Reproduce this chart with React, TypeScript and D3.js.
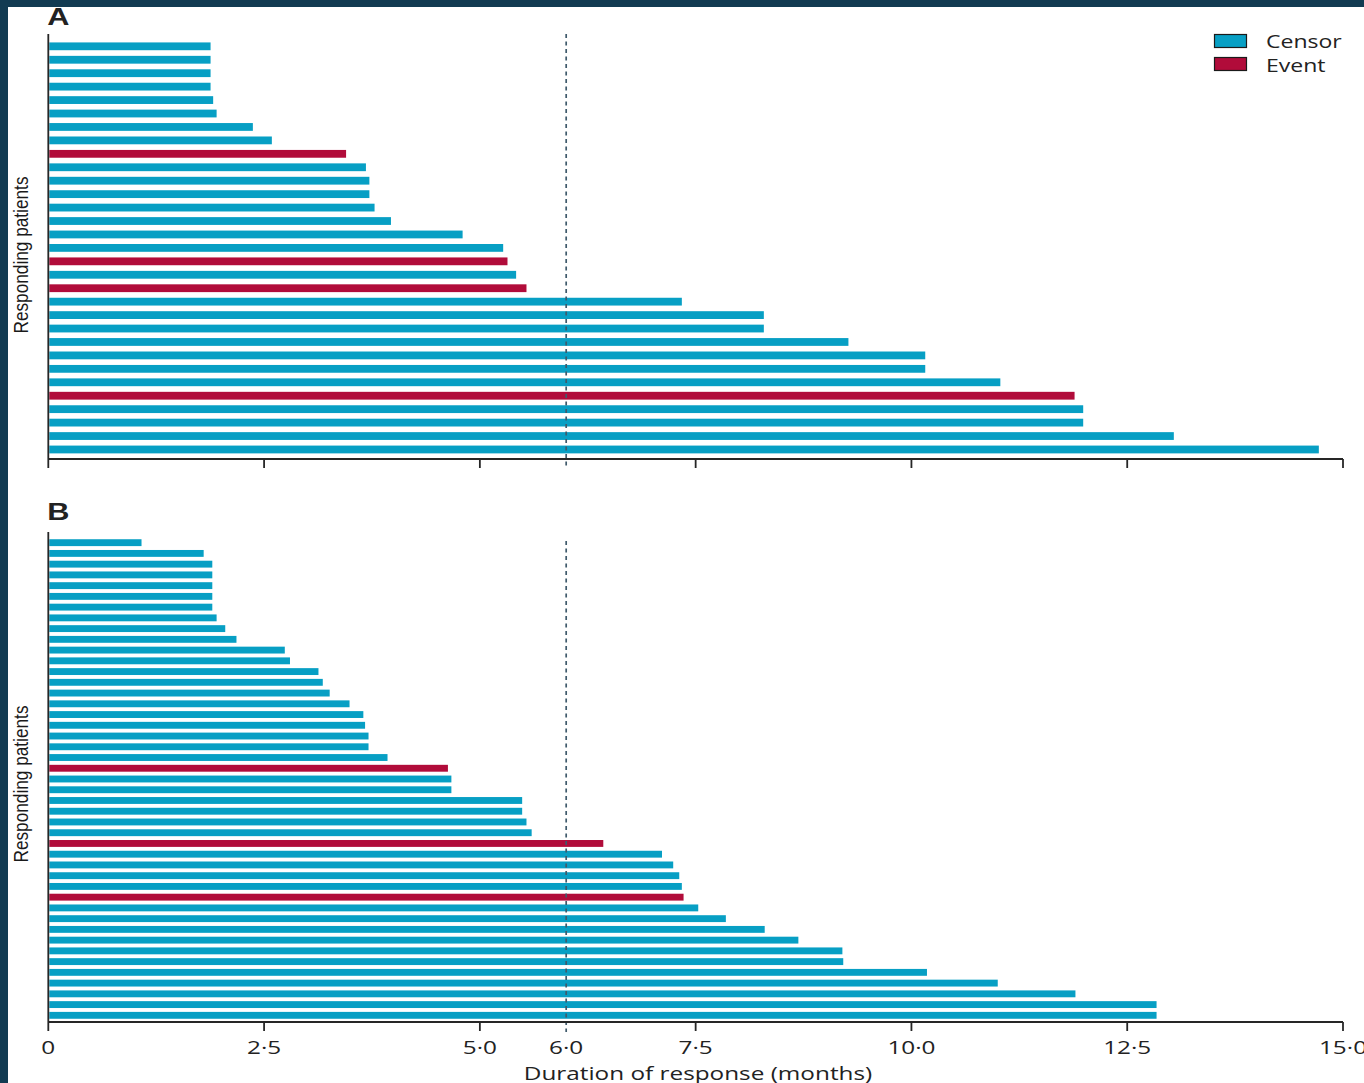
import React from "react";
import * as d3 from "d3";

// Panel A: duration of response (months), top to bottom
const valuesA = [1.88, 1.88, 1.88, 1.88, 1.91, 1.95, 2.37, 2.59, 3.45, 3.68, 3.72, 3.72, 3.78, 3.97, 4.8, 5.27, 5.32, 5.42, 5.54, 7.34, 8.29, 8.29, 9.27, 10.16, 10.16, 11.03, 11.89, 11.99, 11.99, 13.04, 14.72];
const statusA = ["C","C","C","C","C","C","C","C","E","C","C","C","C","C","C","C","E","C","E","C","C","C","C","C","C","C","E","C","C","C","C"];

// Panel B
const valuesB = [1.08, 1.8, 1.9, 1.9, 1.9, 1.9, 1.9, 1.95, 2.05, 2.18, 2.74, 2.8, 3.13, 3.18, 3.26, 3.49, 3.65, 3.67, 3.71, 3.71, 3.93, 4.63, 4.67, 4.67, 5.49, 5.49, 5.54, 5.6, 6.43, 7.11, 7.24, 7.31, 7.34, 7.36, 7.53, 7.85, 8.3, 8.69, 9.2, 9.21, 10.18, 11.0, 11.9, 12.84, 12.84];
const statusB = ["C","C","C","C","C","C","C","C","C","C","C","C","C","C","C","C","C","C","C","C","C","E","C","C","C","C","C","C","E","C","C","C","C","E","C","C","C","C","C","C","C","C","C","C","C"];

const tickValues = [0, 2.5, 5, 7.5, 10, 12.5, 15];
const tickLabels = ["0", "2·5", "5·0", "7·5", "10·0", "12·5", "15·0"];
const refLine = 6;
const refLabel = "6·0";
const legendItems = [
  { key: "C", label: "Censor" },
  { key: "E", label: "Event" },
];

const BLUE = "#079fc4";
const RED = "#b10c3a";
const AXIS = "#262626";
const DASH = "#3f5a6b";
const FONT = "'Open Sans', 'Noto Sans', sans-serif";
const SX = 1.28; // horizontal stretch of the reference's text

const x = d3.scaleLinear().domain([0, 15]).range([48.3, 1343]);

function SText({ x: tx, y: ty, anchor = "start", size, children, weight = "normal", family = FONT }: any) {
  return (
    <text
      transform={`translate(${tx},${ty}) scale(${SX},1)`}
      textAnchor={anchor}
      fontFamily={family}
      fontSize={size}
      fontWeight={weight}
      fill="#222"
    >
      {children}
    </text>
  );
}

function Panel({ values, status, top, bottom, axisY, yAxisTop, dashTop, letter, letterY, labelCenter, pad, showLabels }: any) {
  const y = d3
    .scaleBand<number>()
    .domain(values.map((_: number, i: number) => i))
    .range([top, bottom])
    .paddingInner(pad)
    .paddingOuter(pad / 2);
  return (
    <g>
      <SText x={x(0) - 1} y={letterY} size={24} weight="bold" family="'Liberation Sans', Arial, sans-serif">
        {letter}
      </SText>
      {values.map((v: number, i: number) => (
        <rect
          key={i}
          x={x(0) + 1}
          y={y(i)}
          width={x(v) - x(0) - 1}
          height={y.bandwidth()}
          fill={status[i] === "E" ? RED : BLUE}
        />
      ))}
      <line x1={x(refLine)} x2={x(refLine)} y1={dashTop} y2={axisY + 10} stroke={DASH} strokeWidth={1.7} strokeDasharray="4 3.5" />
      <line x1={x(0)} x2={x(0)} y1={yAxisTop} y2={axisY} stroke={AXIS} strokeWidth={1.8} />
      <line x1={x(0)} x2={x(15)} y1={axisY} y2={axisY} stroke={AXIS} strokeWidth={1.8} />
      {tickValues.map((t, i) => (
        <line key={i} x1={x(t)} x2={x(t)} y1={axisY} y2={axisY + 9} stroke={AXIS} strokeWidth={1.8} />
      ))}
      {showLabels &&
        tickValues.map((t, i) => (
          <SText key={"l" + i} x={x(t)} y={axisY + 32} anchor="middle" size={19}>
            {tickLabels[i]}
          </SText>
        ))}
      {showLabels && (
        <SText x={x(refLine)} y={axisY + 32} anchor="middle" size={19}>
          {refLabel}
        </SText>
      )}
      <text
        transform={`translate(28,${labelCenter}) rotate(-90)`}
        textAnchor="middle"
        fontFamily="'Liberation Sans Narrow', 'Liberation Sans', sans-serif"
        fontSize={21}
        textLength={157}
        lengthAdjust="spacingAndGlyphs"
        fill="#1a1a1a"
      >
        Responding patients
      </text>
    </g>
  );
}

export default function App() {
  return (
    <svg width={1364} height={1083} style={{ position: "absolute", left: 0, top: 0, display: "block" }}>
      <rect x={0} y={0} width={1364} height={1083} fill="#ffffff" />
      <Panel values={valuesA} status={statusA} top={39.6} bottom={456.2} axisY={459} yAxisTop={34} dashTop={34} letter="A" letterY={25} labelCenter={255} pad={0.42} showLabels={false} />
      <Panel values={valuesB} status={statusB} top={537.3} bottom={1020.7} axisY={1022} yAxisTop={532} dashTop={541} letter="B" letterY={520} labelCenter={784} pad={0.36} showLabels={true} />
      {legendItems.map((d, i) => (
        <g key={d.key}>
          <rect x={1214.5} y={34.5 + i * 23} width={32} height={13} fill={d.key === "E" ? RED : BLUE} stroke="#1a1a1a" strokeWidth={1.2} />
          <SText x={1266} y={48 + i * 24} size={18}>
            {d.label}
          </SText>
        </g>
      ))}
      <SText x={698} y={1080} anchor="middle" size={19}>
        Duration of response (months)
      </SText>
      {/* dark frame on top and left */}
      <rect x={0} y={0} width={1364} height={7} fill="#123b52" />
      <rect x={0} y={0} width={8} height={1083} fill="#123b52" />
    </svg>
  );
}
